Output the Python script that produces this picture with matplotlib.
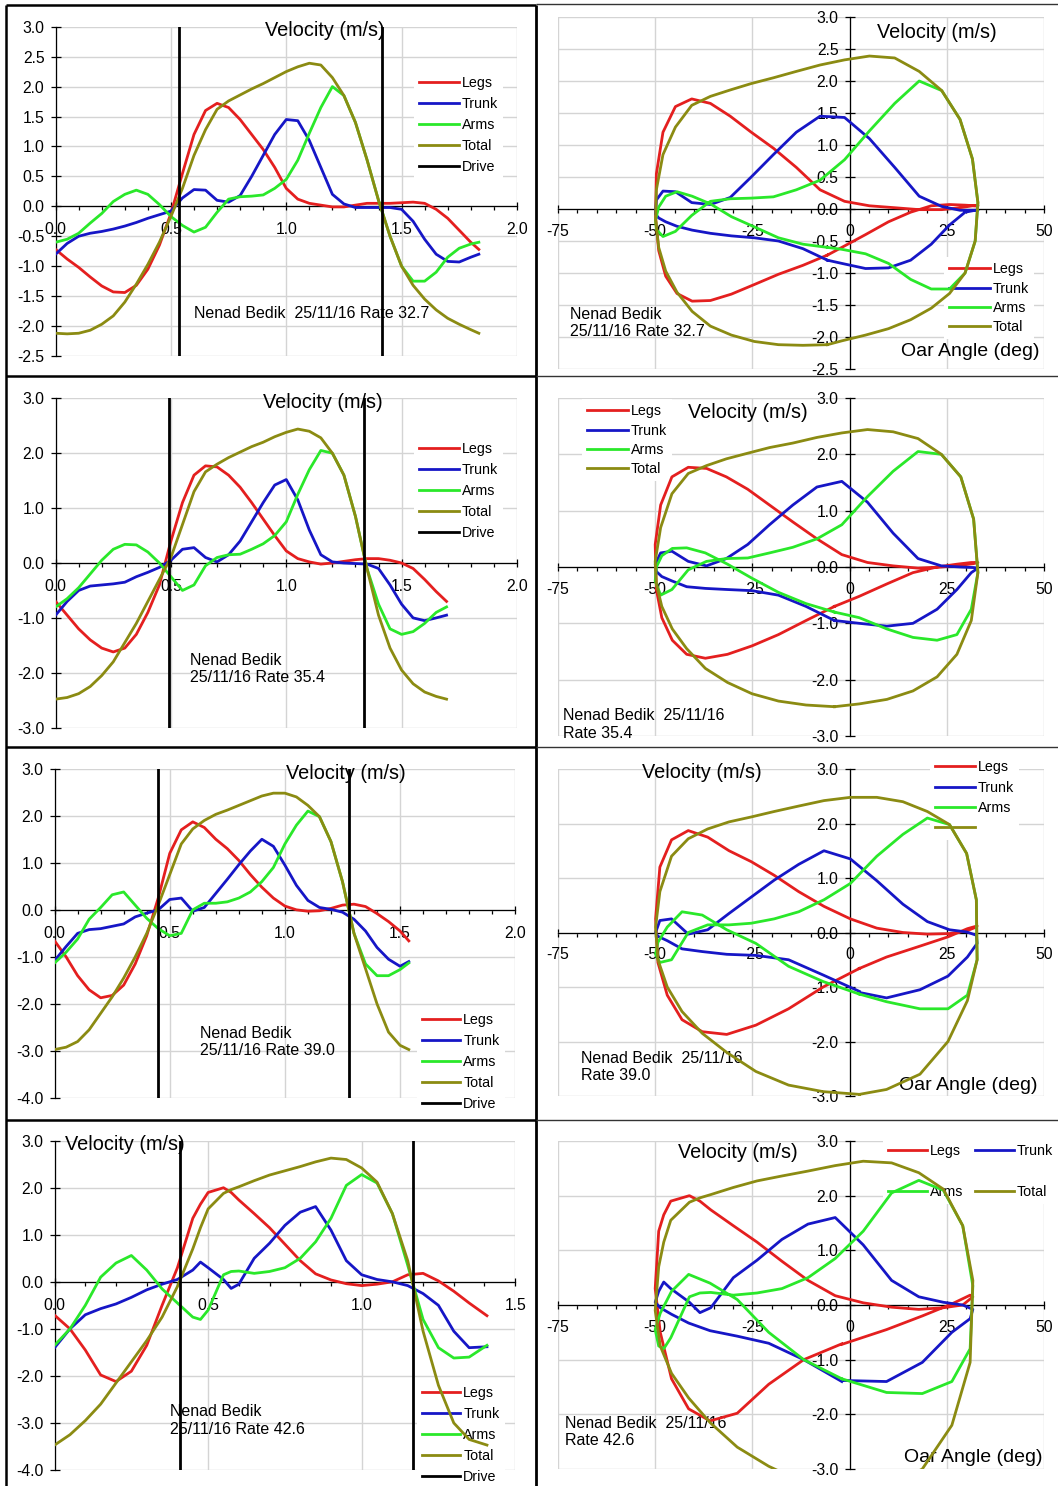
import matplotlib
matplotlib.use("Agg")
import matplotlib.pyplot as plt
from matplotlib.lines import Line2D
from matplotlib.ticker import MultipleLocator, FormatStrFormatter

plt.rcParams["font.family"] = ["Liberation Sans", "DejaVu Sans"]
plt.rcParams["axes.unicode_minus"] = False

W, H = 1058, 1486   # output size in pixels at dpi 100

# Segment velocities (m/s) over one stroke cycle, sampled in time (s),
# plus the oar angle (deg) at each sample for the velocity/angle loops.

# ---- rate 32.7 ----
time_327 = [0.00, 0.05, 0.10, 0.15, 0.20, 0.25, 0.30, 0.35, 0.40, 0.45, 0.50, 0.55, 0.60,
            0.65, 0.70, 0.75, 0.80, 0.85, 0.90, 0.95, 1.00, 1.05, 1.10, 1.15, 1.20, 1.25,
            1.30, 1.35, 1.40, 1.45, 1.50, 1.55, 1.60, 1.65, 1.70, 1.75, 1.80, 1.835]
angle_327 = [-5.7, -12.0, -18.3, -24.5, -30.4, -35.8, -40.5, -44.4, -47.3, -49.1, -49.9, -49.7,
             -48.0, -44.8, -40.6, -35.8, -30.7, -25.3, -19.6, -13.7, -7.6, -1.3, 5.1, 11.6,
             17.9, 23.7, 28.4, 31.6, 33.0, 32.3, 29.7, 25.7, 21.0, 15.7, 10.0, 4.1, -2.0, -5.7]
legs_327 = [-0.72, -0.88, -1.02, -1.18, -1.33, -1.43, -1.44, -1.32, -1.05, -0.65, -0.12, 0.55,
            1.20, 1.60, 1.72, 1.65, 1.45, 1.20, 0.95, 0.65, 0.30, 0.12, 0.05, 0.02, -0.01,
            -0.01, 0.02, 0.05, 0.05, 0.05, 0.06, 0.07, 0.05, -0.05, -0.20, -0.40, -0.60, -0.72]
trunk_327 = [-0.80, -0.62, -0.50, -0.45, -0.42, -0.38, -0.33, -0.27, -0.20, -0.14, -0.08, 0.14,
             0.28, 0.27, 0.10, 0.07, 0.18, 0.50, 0.85, 1.20, 1.45, 1.43, 1.10, 0.65, 0.20,
             0.04, -0.02, -0.02, -0.02, -0.02, -0.05, -0.25, -0.55, -0.80, -0.92, -0.93, -0.85, -0.80]
arms_327 = [-0.60, -0.55, -0.45, -0.28, -0.12, 0.08, 0.20, 0.27, 0.20, 0.03, -0.17, -0.32,
            -0.43, -0.35, -0.10, 0.12, 0.16, 0.17, 0.19, 0.30, 0.45, 0.77, 1.22, 1.65, 2.00,
            1.85, 1.40, 0.78, 0.10, -0.50, -1.00, -1.25, -1.25, -1.10, -0.85, -0.70, -0.63, -0.60]
total_327 = [-2.12, -2.13, -2.12, -2.07, -1.97, -1.83, -1.60, -1.30, -0.97, -0.60, -0.17, 0.30,
             0.85, 1.28, 1.62, 1.76, 1.86, 1.96, 2.05, 2.15, 2.25, 2.33, 2.39, 2.36, 2.15,
             1.85, 1.40, 0.78, 0.10, -0.50, -1.00, -1.32, -1.55, -1.73, -1.87, -1.97, -2.06, -2.12]
drive_327 = [0.534, 1.413]

# ---- rate 35.4 ----
time_354 = [0.00, 0.05, 0.10, 0.15, 0.20, 0.25, 0.30, 0.35, 0.40, 0.45, 0.50, 0.55, 0.60,
            0.65, 0.70, 0.75, 0.80, 0.85, 0.90, 0.95, 1.00, 1.05, 1.10, 1.15, 1.20, 1.25,
            1.30, 1.35, 1.40, 1.45, 1.50, 1.55, 1.60, 1.65, 1.695]
angle_354 = [-3.9, -11.2, -18.3, -25.1, -31.4, -37.1, -41.9, -45.6, -48.3, -49.7, -50.0, -48.6,
             -45.7, -41.5, -36.8, -31.7, -26.2, -20.6, -14.6, -8.4, -2.0, 4.6, 11.2, 17.6,
             23.6, 28.6, 31.9, 33.0, 31.3, 27.6, 22.5, 16.3, 9.6, 2.5, -3.9]
legs_354 = [-0.70, -0.95, -1.20, -1.40, -1.55, -1.62, -1.55, -1.30, -0.90, -0.40, 0.40, 1.10,
            1.60, 1.77, 1.75, 1.60, 1.38, 1.10, 0.80, 0.50, 0.22, 0.08, 0.02, -0.02, 0.00,
            0.03, 0.06, 0.08, 0.08, 0.05, 0.00, -0.10, -0.30, -0.52, -0.70]
trunk_354 = [-0.95, -0.70, -0.50, -0.42, -0.40, -0.38, -0.35, -0.25, -0.17, -0.08, 0.05, 0.25,
             0.28, 0.10, 0.02, 0.15, 0.40, 0.75, 1.10, 1.42, 1.52, 1.15, 0.60, 0.15, 0.02,
             0.00, -0.01, -0.02, -0.10, -0.40, -0.75, -1.00, -1.05, -1.00, -0.95]
arms_354 = [-0.80, -0.65, -0.45, -0.20, 0.05, 0.25, 0.34, 0.33, 0.20, 0.00, -0.25, -0.50,
            -0.40, -0.05, 0.10, 0.15, 0.16, 0.25, 0.35, 0.50, 0.75, 1.25, 1.70, 2.05, 2.00,
            1.60, 0.85, -0.10, -0.75, -1.20, -1.30, -1.25, -1.10, -0.90, -0.80]
total_354 = [-2.48, -2.45, -2.38, -2.25, -2.05, -1.80, -1.45, -1.10, -0.70, -0.30, 0.10, 0.70,
             1.30, 1.66, 1.80, 1.92, 2.02, 2.12, 2.20, 2.30, 2.38, 2.44, 2.40, 2.28, 2.00,
             1.60, 0.85, -0.10, -0.95, -1.55, -1.95, -2.20, -2.35, -2.43, -2.48]
drive_354 = [0.490, 1.339]

# ---- rate 39.0 ----
time_390 = [0.00, 0.05, 0.10, 0.15, 0.20, 0.25, 0.30, 0.35, 0.40, 0.45, 0.50, 0.55, 0.60,
            0.65, 0.70, 0.75, 0.80, 0.85, 0.90, 0.95, 1.00, 1.05, 1.10, 1.15, 1.20, 1.25,
            1.30, 1.35, 1.40, 1.45, 1.50, 1.538]
angle_390 = [2.5, -6.8, -15.7, -24.1, -31.6, -37.9, -43.1, -46.9, -49.3, -49.9, -48.8, -45.8,
             -41.5, -36.5, -31.0, -25.3, -19.4, -13.1, -6.6, 0.2, 7.0, 13.7, 20.0, 25.7,
             30.1, 32.6, 32.8, 30.3, 25.3, 18.1, 9.5, 2.5]
legs_390 = [-0.66, -1.00, -1.40, -1.70, -1.87, -1.82, -1.60, -1.15, -0.55, 0.25, 1.20, 1.70,
            1.87, 1.75, 1.50, 1.30, 1.05, 0.75, 0.48, 0.25, 0.08, 0.00, -0.03, -0.02, 0.03,
            0.10, 0.12, 0.07, -0.08, -0.25, -0.45, -0.66]
trunk_390 = [-1.08, -0.78, -0.50, -0.42, -0.40, -0.35, -0.30, -0.15, -0.07, 0.00, 0.22, 0.25,
             -0.03, 0.05, 0.35, 0.65, 0.96, 1.25, 1.50, 1.35, 0.95, 0.52, 0.20, 0.05, 0.01,
             -0.05, -0.20, -0.45, -0.80, -1.05, -1.20, -1.10]
arms_390 = [-1.13, -0.90, -0.62, -0.20, 0.05, 0.32, 0.38, 0.10, -0.18, -0.40, -0.55, -0.50,
            0.00, 0.14, 0.14, 0.17, 0.25, 0.38, 0.60, 0.90, 1.40, 1.80, 2.10, 1.98, 1.45,
            0.60, -0.50, -1.15, -1.40, -1.40, -1.27, -1.13]
total_390 = [-2.97, -2.92, -2.80, -2.55, -2.20, -1.85, -1.45, -1.00, -0.50, 0.10, 0.75, 1.40,
             1.72, 1.90, 2.03, 2.12, 2.22, 2.32, 2.42, 2.48, 2.48, 2.40, 2.22, 1.98, 1.45,
             0.60, -0.50, -1.25, -2.00, -2.60, -2.88, -2.97]
drive_390 = [0.447, 1.277]

# ---- rate 42.6 ----
time_426 = [0.00, 0.05, 0.10, 0.15, 0.20, 0.25, 0.30, 0.35, 0.40, 0.45, 0.475, 0.50, 0.55,
            0.575, 0.60, 0.65, 0.70, 0.75, 0.80, 0.85, 0.90, 0.95, 1.00, 1.05, 1.10, 1.15,
            1.20, 1.25, 1.30, 1.35, 1.408]
angle_426 = [-2.0, -11.8, -20.8, -28.9, -35.9, -41.4, -45.8, -48.7, -50.0, -49.1, -47.8, -46.0,
             -41.2, -38.5, -35.7, -29.9, -23.8, -17.4, -10.7, -3.7, 3.5, 10.8, 17.8, 24.1,
             29.1, 31.7, 31.0, 26.3, 18.7, 9.5, -2.0]
legs_426 = [-0.71, -1.00, -1.45, -1.98, -2.12, -1.90, -1.35, -0.50, 0.30, 1.35, 1.65, 1.90,
            2.00, 1.90, 1.74, 1.45, 1.15, 0.80, 0.45, 0.17, 0.04, -0.04, -0.08, -0.05, 0.00,
            0.15, 0.18, 0.02, -0.20, -0.45, -0.72]
trunk_426 = [-1.40, -1.00, -0.70, -0.57, -0.47, -0.33, -0.17, -0.05, 0.05, 0.25, 0.42, 0.30,
             0.05, -0.14, -0.05, 0.50, 0.82, 1.20, 1.48, 1.60, 1.10, 0.45, 0.15, 0.05, 0.00,
             -0.08, -0.25, -0.50, -1.05, -1.40, -1.38]
arms_426 = [-1.35, -1.00, -0.50, 0.10, 0.40, 0.56, 0.25, -0.15, -0.45, -0.75, -0.80, -0.60,
            0.15, 0.22, 0.23, 0.18, 0.22, 0.30, 0.50, 0.85, 1.35, 2.05, 2.28, 2.10, 1.45,
            0.35, -0.80, -1.40, -1.62, -1.60, -1.35]
total_426 = [-3.47, -3.25, -2.95, -2.60, -2.15, -1.70, -1.25, -0.75, -0.10, 0.70, 1.15, 1.55,
             1.88, 1.96, 2.02, 2.15, 2.27, 2.36, 2.45, 2.55, 2.63, 2.60, 2.42, 2.12, 1.45,
             0.45, -1.05, -2.20, -3.00, -3.35, -3.47]
drive_426 = [0.408, 1.167]

rates = [32.7, 35.4, 39.0, 42.6]
strokes = [
    dict(t=time_327, angle=angle_327, Legs=legs_327, Trunk=trunk_327, Arms=arms_327, Total=total_327, drive=drive_327),
    dict(t=time_354, angle=angle_354, Legs=legs_354, Trunk=trunk_354, Arms=arms_354, Total=total_354, drive=drive_354),
    dict(t=time_390, angle=angle_390, Legs=legs_390, Trunk=trunk_390, Arms=arms_390, Total=total_390, drive=drive_390),
    dict(t=time_426, angle=angle_426, Legs=legs_426, Trunk=trunk_426, Arms=arms_426, Total=total_426, drive=drive_426),
]

SERIES = ["Legs", "Trunk", "Arms", "Total"]
COLORS = {"Legs": "#e41f1f", "Trunk": "#1616c6", "Arms": "#2ae82a",
          "Total": "#8b8b12", "Drive": "black"}
LW = 2.0
GRID = "#d4d4d4"
LEG_FS = 10.3
TITLE_FS = 14.3
NOTE_FS = 11.5

# panel layouts, in figure pixels
left_layout = [
    dict(box=(55.6, 516.9, 26.7, 356.0), xmax=2.0, ylim=(-2.5, 3.0), ystep=0.5,
         title=(324.5, 30.7), note=(193.8, 314), note_fmt="Nenad Bedik  25/11/16 Rate {:.1f}",
         leg=(419, 82.3, 20.5, 40)),
    dict(box=(55.6, 516.9, 398.3, 727.7), xmax=2.0, ylim=(-3.0, 3.0), ystep=1.0,
         title=(322.4, 402.7), note=(190, 669), note_fmt="Nenad Bedik\n25/11/16 Rate {:.1f}",
         leg=(419, 448.3, 20.4, 40)),
    dict(box=(54.6, 515.2, 768.7, 1098.0), xmax=2.0, ylim=(-4.0, 3.0), ystep=1.0,
         title=(346.3, 774), note=(199.6, 1042), note_fmt="Nenad Bedik\n25/11/16 Rate {:.1f}",
         leg=(422.4, 1019.7, 20.4, 38)),
    dict(box=(54.6, 515.2, 1140.7, 1470.0), xmax=1.5, ylim=(-4.0, 3.0), ystep=1.0,
         title=(124.5, 1145), note=(169.6, 1420.7), note_fmt="Nenad Bedik\n25/11/16 Rate {:.1f}",
         leg=(422.4, 1392.7, 20.2, 38)),
]
right_layout = [
    dict(box=(558, 1044, 17, 369), ylim=(-2.5, 3.0), ystep=0.5,
         title=(937, 32), axis_label=(970, 351),
         note=(570, 323), note_fmt="Nenad Bedik\n25/11/16 Rate {:.1f}",
         leg=(949, 269, 18.7, 41), labels=["Legs", "Trunk", "Arms", "Total"], ncol=1),
    dict(box=(558, 1044, 398, 736), ylim=(-3.0, 3.0), ystep=1.0,
         title=(748, 412), axis_label=None,
         note=(563, 724.5), note_fmt="Nenad Bedik  25/11/16\nRate {:.1f}",
         leg=(587, 411, 18.7, 41), labels=["Legs", "Trunk", "Arms", "Total"], ncol=1),
    dict(box=(558, 1044, 769, 1096), ylim=(-3.0, 3.0), ystep=1.0,
         title=(702, 773), axis_label=(968, 1085),
         note=(581, 1067), note_fmt="Nenad Bedik  25/11/16\nRate {:.1f}",
         leg=(935, 767, 19.7, 40), labels=["Legs", "Trunk", "Arms", ""], ncol=1),
    dict(box=(558, 1044, 1141, 1469), ylim=(-3.0, 3.0), ystep=1.0,
         title=(738, 1152), axis_label=(973, 1457),
         note=(565, 1432), note_fmt="Nenad Bedik  25/11/16\nRate {:.1f}",
         leg=(888, 1151, 40, 39), labels=["Legs", "Trunk", "Arms", "Total"], ncol=2),
]

fig = plt.figure(figsize=(W / 100, H / 100), dpi=100)
fig.patch.set_facecolor("white")


def fx(x):
    return x / W


def fy(y):
    return 1 - y / H


def axes_px(x0, x1, ytop, ybot):
    return fig.add_axes([fx(x0), fy(ybot), (x1 - x0) / W, (ybot - ytop) / H])


def style(ax, xlim, ylim, xmajor, xminor, ystep, xfmt, xpad):
    ax.set_xlim(*xlim)
    ax.set_ylim(*ylim)
    ax.set_facecolor("white")
    ax.xaxis.set_major_locator(MultipleLocator(xmajor))
    ax.xaxis.set_minor_locator(MultipleLocator(xminor))
    ax.yaxis.set_major_locator(MultipleLocator(ystep))
    ax.xaxis.set_major_formatter(FormatStrFormatter(xfmt))
    ax.yaxis.set_major_formatter(FormatStrFormatter("%.1f"))
    ax.grid(True, which="major", color=GRID, lw=1.0)
    ax.set_axisbelow(True)
    for s in ("top", "right"):
        ax.spines[s].set_visible(False)
    ax.spines["left"].set_position(("data", 0))
    ax.spines["bottom"].set_position(("data", 0))
    for s in ("left", "bottom"):
        ax.spines[s].set_linewidth(0.9)
    ax.tick_params(axis="x", which="major", direction="inout", length=6, width=0.9,
                   pad=xpad, labelsize=11.3)
    ax.tick_params(axis="x", which="minor", direction="out", length=3, width=0.9)
    ax.tick_params(axis="y", which="major", direction="inout", length=7, width=0.9,
                   pad=4.5, labelsize=11.3)


def text_px(ax, x, y, s, size, ha="center"):
    ax.text(fx(x), fy(y), s, transform=fig.transFigure, fontsize=size, ha=ha,
            va="center", zorder=1.5, linespacing=1.2)


def legend_px(ax, keys, labels, x0, y_first, pitch, hlen, ncol=1):
    fs_px = LEG_FS * 100 / 72
    bp = 0.35
    handles = [Line2D([], [], color=COLORS[k], lw=2.0) for k in keys]
    top = y_first - 0.47 * fs_px - bp * fs_px
    leg = ax.legend(handles, labels, loc="upper left",
                    bbox_to_anchor=(fx(x0 - bp * fs_px), fy(top)),
                    bbox_transform=fig.transFigure, frameon=True, fancybox=False,
                    facecolor="white", edgecolor="none", framealpha=1, fontsize=LEG_FS,
                    handlelength=hlen / fs_px, handletextpad=0.2,
                    labelspacing=pitch / fs_px - 0.93, borderpad=bp,
                    borderaxespad=0, ncol=ncol, columnspacing=0.8)
    leg.set_zorder(2.5)
    return leg


# velocity against time, drive phase marked
for rate, st, lay in zip(rates, strokes, left_layout):
    ax = axes_px(*lay["box"])
    style(ax, (0, lay["xmax"]), lay["ylim"], 0.5, 0.1, lay["ystep"], "%.1f", 8.5)
    for name in SERIES:
        ax.plot(st["t"], st[name], color=COLORS[name], lw=LW, zorder=3,
                solid_joinstyle="round")
    for d in st["drive"]:
        ax.axvline(d, color="black", lw=2.0, zorder=3.5)
    text_px(ax, *lay["title"], "Velocity (m/s)", TITLE_FS)
    text_px(ax, *lay["note"], lay["note_fmt"].format(rate), NOTE_FS, ha="left")
    x0, y0, pitch, hlen = lay["leg"]
    keys = SERIES + ["Drive"]
    legend_px(ax, keys, keys, x0, y0, pitch, hlen)

# velocity against oar angle
for rate, st, lay in zip(rates, strokes, right_layout):
    ax = axes_px(*lay["box"])
    style(ax, (-75, 50), lay["ylim"], 25, 5, lay["ystep"], "%d", 7.5)
    for name in SERIES:
        ax.plot(st["angle"], st[name], color=COLORS[name], lw=LW, zorder=3,
                solid_joinstyle="round")
    text_px(ax, *lay["title"], "Velocity (m/s)", TITLE_FS)
    if lay["axis_label"]:
        text_px(ax, *lay["axis_label"], "Oar Angle (deg)", 14)
    text_px(ax, *lay["note"], lay["note_fmt"].format(rate), NOTE_FS, ha="left")
    x0, y0, pitch, hlen = lay["leg"]
    keys, labels = SERIES, lay["labels"]
    if lay["ncol"] == 2:
        order = [0, 2, 1, 3]
        keys = [keys[i] for i in order]
        labels = [labels[i] for i in order]
    legend_px(ax, keys, labels, x0, y0, pitch, hlen, ncol=lay["ncol"])


# panel frames
def rule(x0, y0, x1, y1, lw, color="black"):
    fig.add_artist(Line2D([fx(x0), fx(x1)], [fy(y0), fy(y1)], transform=fig.transFigure,
                          color=color, lw=lw, solid_capstyle="butt"))


rule(5.5, 4.5, 5.5, H, 1.8)
rule(536, 4.5, 536, H, 2.0)
rule(5.5, 4.5, 536, 4.5, 1.8)
rule(536, 4, W, 4, 1.0, "#333333")
for y in (375.5, 747, 1120):
    rule(5.5, y, 536, y, 1.8)
    rule(536, y, W, y, 1.0, "#333333")

fig.savefig("out.png", dpi=100, facecolor="white")
